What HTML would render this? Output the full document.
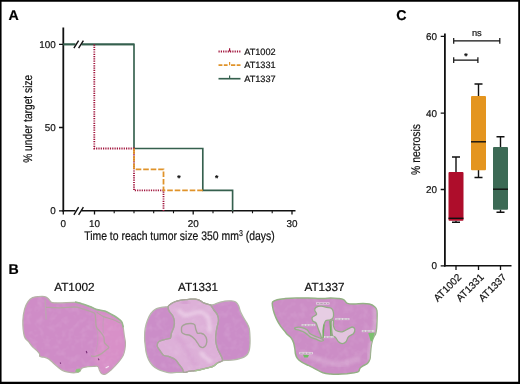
<!DOCTYPE html>
<html>
<head>
<meta charset="utf-8">
<title>Figure</title>
<style>
html,body{margin:0;padding:0;background:#fff;}
body{width:520px;height:384px;overflow:hidden;}
svg{display:block;}
text{font-family:"Liberation Sans",sans-serif;fill:#111;stroke:#111;stroke-width:.2px;text-rendering:geometricPrecision;}
.tk{font-size:9.9px;}
.lbl{font-size:12.5px;}
.pl{font-size:14.2px;font-weight:bold;fill:#000;}
.ax{stroke:#111;stroke-width:1.9;fill:none;}
</style>
</head>
<body>
<svg width="520" height="384" viewBox="0 0 520 384">
<rect x="0" y="0" width="520" height="384" fill="#fff"/>

<!-- ===== Panel A ===== -->
<g id="panelA">
<text class="pl" x="8.45" y="20">A</text>
<!-- axes -->
<path class="ax" d="M63.3 27.5V211.5" style="stroke-width:1.8"/><path class="ax" d="M62.4 210.8H295.5" style="stroke-width:1.5"/>
<!-- y ticks -->
<path class="ax" d="M59 44.3H63.3M59 127.5H63.3M59 210.8H63.3" style="stroke-width:1.3"/>
<!-- x ticks -->
<path class="ax" d="M63.3 210.8V214.4M94.5 210.8V214.4M193.2 210.8V214.4M292 210.8V214.4" style="stroke-width:1.3"/>
<path class="ax" d="M114.2 210.8V213.2M134 210.8V213.2M153.7 210.8V213.2M173.5 210.8V213.2M213 210.8V213.2M232.7 210.8V213.2M252.5 210.8V213.2M272.2 210.8V213.2" style="stroke-width:1.1"/>
<!-- axis breaks -->
<rect x="75.5" y="208" width="6" height="6" fill="#fff"/>
<path class="ax" d="M73.9 214.8L78.6 207.2M78.6 214.8L83.4 207.2" style="stroke-width:1.4"/>
<!-- curves -->
<path d="M63.3 44.3H134V148.5H202.8V190.3H232.6V211" fill="none" stroke="#35604e" stroke-width="1.65"/>
<path d="M63.3 44.3H134" fill="none" stroke="#35604e" stroke-width="1.65"/>
<rect x="75.5" y="41" width="6" height="6" fill="#fff"/>
<path class="ax" d="M73.9 48.2L78.6 40.6M78.6 48.2L83.4 40.6" style="stroke-width:1.4"/>
<path d="M94.3 44.5V148.5H134V190.3H163.5V211" fill="none" stroke="#a1143c" stroke-width="1.8" stroke-dasharray="1.2 1.1"/>
<path d="M134 148.5V169.3H163.5V190.3H202.8" fill="none" stroke="#e0932a" stroke-width="1.75" stroke-dasharray="5.6 1.9"/>
<!-- stars -->
<text x="179" y="181.1" style="font-size:8.5px;font-weight:bold" text-anchor="middle">*</text>
<text x="216.6" y="181.1" style="font-size:8.5px;font-weight:bold" text-anchor="middle">*</text>
<!-- tick labels -->
<text class="tk" transform="translate(55.8 47.5) scale(1 1)" text-anchor="end">100</text>
<text class="tk" transform="translate(55.8 130.7) scale(1 1)" text-anchor="end">50</text>
<text class="tk" transform="translate(55.8 214) scale(1 1)" text-anchor="end">0</text>
<text class="tk" transform="translate(63.3 227.4) scale(1 1)" text-anchor="middle">0</text>
<text class="tk" transform="translate(94.5 227.4) scale(1 1)" text-anchor="middle">10</text>
<text class="tk" transform="translate(193.2 227.4) scale(1 1)" text-anchor="middle">20</text>
<text class="tk" transform="translate(292.0 227.4) scale(1 1)" text-anchor="middle">30</text>
<!-- axis titles -->
<text class="lbl" x="84.2" y="240.3" textLength="190.5" lengthAdjust="spacingAndGlyphs">Time to reach tumor size 350 mm<tspan style="font-size:8.5px" dy="-4.5">3</tspan><tspan dy="4.5"> (days)</tspan></text>
<text class="lbl" transform="translate(32.4 118.8) rotate(-90)" text-anchor="middle" textLength="88" lengthAdjust="spacingAndGlyphs">% under target size</text>
<!-- legend -->
<path d="M218.5 51.5H240.5" fill="none" stroke="#a1143c" stroke-width="1.8" stroke-dasharray="1.2 1.1"/>
<path d="M229.6 48.3V51.5" stroke="#a1143c" stroke-width="1.2"/>
<path d="M218.5 65.2H222.4M223.8 65.2H227.6M231 65.2H235.3M236.7 65.2H240.5" fill="none" stroke="#e0932a" stroke-width="1.75"/>
<path d="M229.6 62V65.2" stroke="#e0932a" stroke-width="1.2"/>
<path d="M218.5 78.7H240.5" fill="none" stroke="#35604e" stroke-width="1.65"/>
<path d="M229.6 75.5V78.7" stroke="#35604e" stroke-width="1.2"/>
<text x="244.2" y="54.7" style="font-size:9.2px">AT1002</text>
<text x="244.2" y="68.4" style="font-size:9.2px">AT1331</text>
<text x="244.2" y="81.9" style="font-size:9.2px">AT1337</text>
</g>

<!-- ===== Panel C ===== -->
<g id="panelC">
<text class="pl" x="396.3" y="20.2">C</text>
<path class="ax" d="M444.9 33.5V266.5" style="stroke-width:1.8"/><path class="ax" d="M444 265.8H511.5" style="stroke-width:1.5"/>
<path class="ax" d="M440.7 36.3H445M440.7 113.1H445M440.7 189.5H445M440.7 265.8H445" style="stroke-width:1.3"/>
<path class="ax" d="M456 265.8V270M478.5 265.8V270M500.5 265.8V270" style="stroke-width:1.3"/>
<text class="tk" transform="translate(437.0 40.1) scale(1 1)" text-anchor="end">60</text>
<text class="tk" transform="translate(437.0 116.9) scale(1 1)" text-anchor="end">40</text>
<text class="tk" transform="translate(437.0 193.3) scale(1 1)" text-anchor="end">20</text>
<text class="tk" transform="translate(437.0 269.4) scale(1 1)" text-anchor="end">0</text>
<text class="lbl" transform="translate(420.2 149.5) rotate(-90)" text-anchor="middle" textLength="51" lengthAdjust="spacingAndGlyphs">% necrosis</text>
<!-- boxes -->
<path d="M456 157V172M456 220.8V222.3M452 157H460M452 222.3H460" stroke="#111" stroke-width="1.4" fill="none"/>
<rect x="448.5" y="172" width="15" height="48.8" rx="1" fill="#ae0d2b"/>
<path d="M448.5 218.3H463.5" stroke="#111" stroke-width="1.4"/>
<path d="M478.5 84V96M478.5 170V177.5M474.5 84H482.5M474.5 177.5H482.5" stroke="#111" stroke-width="1.4" fill="none"/>
<rect x="471" y="96" width="15" height="74.3" rx="1" fill="#e4951f"/>
<path d="M471 141.8H486" stroke="#111" stroke-width="1.4"/>
<path d="M500.5 136.8V147M500.5 209.6V212.2M496.5 136.8H504.5M496.5 212.2H504.5" stroke="#111" stroke-width="1.4" fill="none"/>
<rect x="493" y="147" width="15" height="62.8" rx="1" fill="#3c6a55"/>
<path d="M493 189.2H508" stroke="#111" stroke-width="1.4"/>
<!-- significance -->
<path d="M453.7 38V43.8M453.7 40.9H499.8M499.8 38V43.8" stroke="#111" stroke-width="1.2" fill="none"/>
<path d="M453.7 57.3V63.1M453.7 60.2H477.9M477.9 57.3V63.1" stroke="#111" stroke-width="1.2" fill="none"/>
<text x="476.8" y="35.7" text-anchor="middle" style="font-size:9.3px">ns</text>
<text x="465.8" y="58.5" style="font-size:8.5px;font-weight:bold" text-anchor="middle">*</text>
<!-- x labels -->
<text transform="translate(462 277.8) rotate(-45)" text-anchor="end" style="font-size:10.05px">AT1002</text>
<text transform="translate(484.5 277.8) rotate(-45)" text-anchor="end" style="font-size:10.05px">AT1331</text>
<text transform="translate(507 277.8) rotate(-45)" text-anchor="end" style="font-size:10.05px">AT1337</text>
</g>

<!-- ===== Panel B ===== -->
<g id="panelB">
<text class="pl" x="8.4" y="273.8">B</text>
<!--TUM-->
<defs><filter id="bl" x="-5%" y="-5%" width="110%" height="110%"><feGaussianBlur stdDeviation="0.45"/></filter><filter id="nz" x="0" y="0" width="100%" height="100%"><feTurbulence type="fractalNoise" baseFrequency="0.16" numOctaves="2" seed="4" result="n"/><feColorMatrix type="matrix" values="0 0 0 0 1  0 0 0 0 0.92  0 0 0 0 1  0.9 0 0 0 -0.38"/></filter><filter id="bl2" x="-20%" y="-20%" width="140%" height="140%"><feGaussianBlur stdDeviation="1.6"/></filter></defs>
<g id="t1" filter="url(#bl)">
<path d="M24.3 336.0C23.4 332.5 22.8 325.1 22.9 320.6C22.9 316.1 23.8 312.4 24.6 309.2C25.5 306.0 26.7 303.6 28.0 301.7C29.3 299.8 30.9 298.5 32.6 297.7C34.3 296.9 36.3 296.8 38.3 296.6C40.3 296.4 42.9 296.2 44.6 296.6C46.3 297.0 47.5 297.9 48.6 298.9C49.8 299.8 49.6 301.6 51.5 302.3C53.4 303.0 56.2 302.9 60.1 302.9C64.0 302.9 71.4 302.1 75.0 302.3C78.6 302.5 79.4 303.2 81.9 304.0C84.4 304.8 87.4 305.9 89.9 306.9C92.4 307.9 94.3 309.0 96.8 309.8C99.3 310.6 102.3 310.6 104.8 311.5C107.3 312.4 109.6 313.8 111.7 314.9C113.8 316.0 115.8 317.2 117.4 318.4C119.0 319.5 120.5 320.3 121.4 321.8C122.4 323.3 122.6 325.1 123.1 327.5C123.6 329.9 123.9 333.4 124.3 336.0C124.7 338.6 125.3 340.6 125.4 342.9C125.5 345.2 125.2 347.6 124.8 349.7C124.4 351.8 123.9 353.7 123.1 355.5C122.2 357.3 121.0 358.9 119.7 360.6C118.4 362.3 116.6 364.2 115.1 365.8C113.6 367.4 112.0 369.1 110.5 370.4C109.0 371.7 107.3 373.2 105.9 373.8C104.5 374.4 103.0 374.4 101.9 373.8C100.9 373.2 100.3 371.6 99.6 370.4C98.9 369.2 99.0 367.1 97.9 366.4C96.9 365.7 95.0 366.3 93.3 366.4C91.6 366.4 89.5 366.4 87.6 366.7C85.7 367.0 83.2 367.3 81.9 368.1C80.6 368.9 80.8 370.7 79.6 371.5C78.4 372.3 76.9 372.6 75.0 372.7C73.1 372.8 70.2 372.5 68.1 372.1C66.0 371.7 64.1 371.3 62.4 370.4C60.7 369.5 59.3 368.1 57.8 366.9C56.3 365.6 54.7 364.2 53.2 362.9C51.7 361.6 50.1 359.8 48.6 358.9C47.1 357.9 45.4 357.6 44.0 357.2C42.6 356.8 40.8 357.2 40.0 356.6C39.2 356.0 40.0 354.8 39.5 353.8C39.0 352.9 38.4 352.0 37.2 350.9C36.1 349.8 34.0 348.4 32.6 346.9C31.2 345.4 30.0 343.5 28.6 341.7C27.2 339.9 25.2 339.5 24.3 336.0Z" fill="#cf8cc7" stroke="#b5b3a6" stroke-width="1.3"/>
<clipPath id="c1"><path d="M24.3 336.0C23.4 332.5 22.8 325.1 22.9 320.6C22.9 316.1 23.8 312.4 24.6 309.2C25.5 306.0 26.7 303.6 28.0 301.7C29.3 299.8 30.9 298.5 32.6 297.7C34.3 296.9 36.3 296.8 38.3 296.6C40.3 296.4 42.9 296.2 44.6 296.6C46.3 297.0 47.5 297.9 48.6 298.9C49.8 299.8 49.6 301.6 51.5 302.3C53.4 303.0 56.2 302.9 60.1 302.9C64.0 302.9 71.4 302.1 75.0 302.3C78.6 302.5 79.4 303.2 81.9 304.0C84.4 304.8 87.4 305.9 89.9 306.9C92.4 307.9 94.3 309.0 96.8 309.8C99.3 310.6 102.3 310.6 104.8 311.5C107.3 312.4 109.6 313.8 111.7 314.9C113.8 316.0 115.8 317.2 117.4 318.4C119.0 319.5 120.5 320.3 121.4 321.8C122.4 323.3 122.6 325.1 123.1 327.5C123.6 329.9 123.9 333.4 124.3 336.0C124.7 338.6 125.3 340.6 125.4 342.9C125.5 345.2 125.2 347.6 124.8 349.7C124.4 351.8 123.9 353.7 123.1 355.5C122.2 357.3 121.0 358.9 119.7 360.6C118.4 362.3 116.6 364.2 115.1 365.8C113.6 367.4 112.0 369.1 110.5 370.4C109.0 371.7 107.3 373.2 105.9 373.8C104.5 374.4 103.0 374.4 101.9 373.8C100.9 373.2 100.3 371.6 99.6 370.4C98.9 369.2 99.0 367.1 97.9 366.4C96.9 365.7 95.0 366.3 93.3 366.4C91.6 366.4 89.5 366.4 87.6 366.7C85.7 367.0 83.2 367.3 81.9 368.1C80.6 368.9 80.8 370.7 79.6 371.5C78.4 372.3 76.9 372.6 75.0 372.7C73.1 372.8 70.2 372.5 68.1 372.1C66.0 371.7 64.1 371.3 62.4 370.4C60.7 369.5 59.3 368.1 57.8 366.9C56.3 365.6 54.7 364.2 53.2 362.9C51.7 361.6 50.1 359.8 48.6 358.9C47.1 357.9 45.4 357.6 44.0 357.2C42.6 356.8 40.8 357.2 40.0 356.6C39.2 356.0 40.0 354.8 39.5 353.8C39.0 352.9 38.4 352.0 37.2 350.9C36.1 349.8 34.0 348.4 32.6 346.9C31.2 345.4 30.0 343.5 28.6 341.7C27.2 339.9 25.2 339.5 24.3 336.0Z"/></clipPath>
<g clip-path="url(#c1)"><path d="M96.5 312.0C98.0 311.1 102.3 312.3 104.8 313.0C107.3 313.7 109.6 314.9 111.7 316.0C113.8 317.1 115.9 318.3 117.4 319.5C119.0 320.7 120.2 321.6 121.0 323.0C121.8 324.4 122.1 325.8 122.5 328.0C122.9 330.2 123.2 333.5 123.6 336.0C123.9 338.5 124.5 340.6 124.6 342.9C124.7 345.2 124.4 347.6 124.0 349.7C123.6 351.8 123.1 353.7 122.3 355.5C121.5 357.3 120.3 358.7 119.0 360.3C117.7 361.9 116.0 363.6 114.5 365.2C113.0 366.8 111.4 368.5 110.0 369.8C108.6 371.1 107.2 372.5 105.9 373.0C104.6 373.5 103.2 373.5 102.2 373.0C101.2 372.5 100.7 371.2 100.0 370.0C99.3 368.8 99.1 367.3 98.3 366.0C97.5 364.7 95.9 363.4 95.0 362.0C94.1 360.6 92.9 359.5 93.0 357.8C93.1 356.1 94.9 354.1 95.6 352.0C96.3 349.9 96.9 347.9 97.3 345.2C97.7 342.5 98.1 339.1 97.9 336.0C97.7 332.9 96.6 329.3 96.2 326.4C95.8 323.5 95.5 320.8 95.6 318.4C95.6 316.0 95.0 312.9 96.5 312.0Z" fill="#d890c8" stroke="none" filter="url(#bl2)"/>
<rect x="20" y="294" width="108" height="82" filter="url(#nz)" opacity=".25"/></g>
<path d="M45.2 299.5C45.3 300.9 45.4 304.7 45.6 308.0C45.8 311.3 46.1 317.6 46.2 319.5" fill="none" stroke="#b9a9ae" stroke-width="1.6" opacity=".7"/>
<path d="M46.0 307.3C48.3 307.4 55.2 307.9 60.0 307.8C64.8 307.8 71.3 306.9 75.0 307.0C78.7 307.1 79.6 308.0 81.9 308.6C84.2 309.2 86.7 310.1 88.8 310.9C90.9 311.7 93.4 311.9 94.5 313.2C95.6 314.4 95.3 316.1 95.6 318.4C95.9 320.7 95.6 324.7 96.4 327.0C97.2 329.3 99.3 330.3 100.5 332.0C101.7 333.7 103.1 335.2 103.8 337.0C104.5 338.8 103.8 341.2 104.6 342.9C105.4 344.6 108.8 346.0 108.8 347.3C108.8 348.6 106.2 349.7 104.8 350.9C103.4 352.1 101.7 353.5 100.2 354.4C98.7 355.3 97.5 355.9 96.0 356.2C94.5 356.5 91.8 356.0 91.0 356.0" fill="none" stroke="#b3a6a2" stroke-width="1.3"/>
<path d="M103.6 316.6C103.5 318.0 103.0 322.3 103.0 325.0C103.0 327.7 103.2 331.7 103.3 333.0" fill="none" stroke="#b9a3b0" stroke-width="1" opacity=".7"/>
<path d="M96.8 329.0C97.0 330.2 97.8 333.3 97.9 336.0C98.0 338.7 97.7 342.5 97.3 345.2C96.9 347.9 95.9 350.9 95.6 352.0" fill="none" stroke="#b9a3b0" stroke-width="1" opacity=".6"/>
<path d="M96.8 312.3C97.9 313.0 100.9 315.4 103.6 316.6C106.3 317.8 109.9 318.4 112.8 319.5C115.7 320.6 119.5 322.7 120.8 323.3" fill="none" stroke="#b0a8a0" stroke-width="1.2"/>
<path d="M75.0 302.0C76.2 302.3 79.4 302.9 81.9 303.7C84.4 304.4 87.4 305.6 89.9 306.5C92.4 307.4 94.3 308.6 96.8 309.4C99.3 310.2 102.3 310.2 104.8 311.1C107.3 312.0 109.6 313.4 111.7 314.5C113.8 315.6 115.8 316.8 117.4 318.0C119.1 319.2 120.6 320.0 121.6 321.6C122.6 323.2 123.0 326.5 123.3 327.5" fill="none" stroke="#98b58d" stroke-width="1.6"/>
<path d="M75 371.6l1.5-2.6l3.5-.6l.6 2.6l-2.2 1.6z" fill="#8fc27e"/>
<path d="M86.2 351l.8 2.2M98.2 358.6l.9 1.6M60.2 362.5l.5 1.3" stroke="#7a2f78" stroke-width="1.1" fill="none"/>
<path d="M105.6 368l3.2-1.8" stroke="#f4e6f2" stroke-width="1.2" fill="none"/>
</g>
<g id="t2" filter="url(#bl)">
<path d="M144.6 338.0C144.6 335.2 144.7 331.3 145.2 328.4C145.7 325.5 146.4 322.9 147.4 320.4C148.4 317.9 149.5 315.4 150.9 313.5C152.3 311.6 154.0 309.9 156.0 308.9C158.0 307.8 160.9 307.6 162.9 307.2C164.9 306.8 166.8 307.1 168.1 306.6C169.3 306.1 169.3 305.1 170.4 304.3C171.5 303.5 172.8 302.7 174.4 302.0C176.0 301.3 178.2 300.7 180.1 300.3C182.0 299.9 184.1 299.9 185.8 299.7C187.5 299.5 188.9 299.3 190.4 299.2C191.9 299.1 193.5 299.0 195.0 299.2C196.5 299.4 198.1 299.6 199.6 300.3C201.1 301.0 202.5 302.4 204.2 303.2C205.9 304.0 208.2 304.7 209.9 304.9C211.6 305.1 213.0 304.7 214.5 304.3C216.0 303.9 217.4 303.1 219.1 302.6C220.8 302.1 222.7 301.4 224.8 301.1C226.9 300.8 229.9 300.8 231.7 300.9C233.5 301.0 234.6 301.2 235.7 302.0C236.8 302.8 237.7 304.0 238.5 305.5C239.3 307.0 239.5 309.3 240.3 311.2C241.1 313.1 242.1 315.0 243.1 316.9C244.1 318.8 245.6 320.7 246.6 322.6C247.6 324.5 248.6 325.8 249.2 328.4C249.8 331.0 249.9 335.4 250.0 338.0C250.1 340.6 250.1 341.8 250.0 343.7C249.9 345.6 249.8 347.8 249.4 349.5C249.0 351.2 248.5 352.8 247.7 354.0C246.8 355.2 245.6 356.1 244.3 356.9C243.0 357.7 241.4 358.1 239.7 358.6C238.0 359.1 235.9 359.5 234.0 359.8C232.1 360.1 230.1 360.2 228.2 360.3C226.3 360.4 224.2 360.1 222.5 360.5C220.8 360.9 219.4 361.7 217.9 362.6C216.4 363.5 215.0 365.2 213.3 366.1C211.6 367.0 209.7 367.2 207.6 367.8C205.5 368.4 202.8 369.0 200.7 369.5C198.6 370.0 196.9 370.4 195.0 370.7C193.1 371.0 191.2 370.9 189.3 371.2C187.4 371.5 185.6 372.2 183.5 372.4C181.4 372.6 178.9 372.3 176.7 372.4C174.5 372.5 172.3 373.0 170.4 372.9C168.5 372.8 167.2 372.4 165.2 371.8C163.2 371.2 160.4 370.6 158.3 369.5C156.2 368.4 154.2 367.1 152.6 365.5C151.0 363.9 149.6 361.9 148.6 359.8C147.6 357.7 146.9 355.4 146.3 352.9C145.7 350.4 145.5 347.4 145.2 344.9C144.9 342.4 144.6 340.8 144.6 338.0Z" fill="#cb8dc8" stroke="#b3b9a8" stroke-width="1.3"/>
<clipPath id="c2"><path d="M144.6 338.0C144.6 335.2 144.7 331.3 145.2 328.4C145.7 325.5 146.4 322.9 147.4 320.4C148.4 317.9 149.5 315.4 150.9 313.5C152.3 311.6 154.0 309.9 156.0 308.9C158.0 307.8 160.9 307.6 162.9 307.2C164.9 306.8 166.8 307.1 168.1 306.6C169.3 306.1 169.3 305.1 170.4 304.3C171.5 303.5 172.8 302.7 174.4 302.0C176.0 301.3 178.2 300.7 180.1 300.3C182.0 299.9 184.1 299.9 185.8 299.7C187.5 299.5 188.9 299.3 190.4 299.2C191.9 299.1 193.5 299.0 195.0 299.2C196.5 299.4 198.1 299.6 199.6 300.3C201.1 301.0 202.5 302.4 204.2 303.2C205.9 304.0 208.2 304.7 209.9 304.9C211.6 305.1 213.0 304.7 214.5 304.3C216.0 303.9 217.4 303.1 219.1 302.6C220.8 302.1 222.7 301.4 224.8 301.1C226.9 300.8 229.9 300.8 231.7 300.9C233.5 301.0 234.6 301.2 235.7 302.0C236.8 302.8 237.7 304.0 238.5 305.5C239.3 307.0 239.5 309.3 240.3 311.2C241.1 313.1 242.1 315.0 243.1 316.9C244.1 318.8 245.6 320.7 246.6 322.6C247.6 324.5 248.6 325.8 249.2 328.4C249.8 331.0 249.9 335.4 250.0 338.0C250.1 340.6 250.1 341.8 250.0 343.7C249.9 345.6 249.8 347.8 249.4 349.5C249.0 351.2 248.5 352.8 247.7 354.0C246.8 355.2 245.6 356.1 244.3 356.9C243.0 357.7 241.4 358.1 239.7 358.6C238.0 359.1 235.9 359.5 234.0 359.8C232.1 360.1 230.1 360.2 228.2 360.3C226.3 360.4 224.2 360.1 222.5 360.5C220.8 360.9 219.4 361.7 217.9 362.6C216.4 363.5 215.0 365.2 213.3 366.1C211.6 367.0 209.7 367.2 207.6 367.8C205.5 368.4 202.8 369.0 200.7 369.5C198.6 370.0 196.9 370.4 195.0 370.7C193.1 371.0 191.2 370.9 189.3 371.2C187.4 371.5 185.6 372.2 183.5 372.4C181.4 372.6 178.9 372.3 176.7 372.4C174.5 372.5 172.3 373.0 170.4 372.9C168.5 372.8 167.2 372.4 165.2 371.8C163.2 371.2 160.4 370.6 158.3 369.5C156.2 368.4 154.2 367.1 152.6 365.5C151.0 363.9 149.6 361.9 148.6 359.8C147.6 357.7 146.9 355.4 146.3 352.9C145.7 350.4 145.5 347.4 145.2 344.9C144.9 342.4 144.6 340.8 144.6 338.0Z"/></clipPath>
<path d="M168.1 306.6C168.3 305.5 169.3 305.1 170.4 304.3C171.5 303.5 172.8 302.7 174.4 302.0C176.0 301.3 178.2 300.7 180.1 300.3C182.0 299.9 184.1 299.9 185.8 299.7C187.5 299.5 188.9 299.3 190.4 299.2C191.9 299.1 193.5 299.0 195.0 299.2C196.5 299.4 198.1 299.6 199.6 300.3C201.1 301.0 202.5 302.4 204.2 303.2C205.9 304.0 208.8 304.5 209.9 304.9C211.0 305.3 210.3 304.6 211.0 305.5C211.7 306.4 212.8 308.5 213.9 310.0C215.0 311.5 216.5 312.9 217.3 314.6C218.1 316.3 218.5 318.5 218.5 320.4C218.5 322.3 217.7 324.2 217.3 326.1C216.9 328.0 216.5 329.8 216.2 331.8C215.9 333.8 215.6 336.0 215.6 338.0C215.6 340.0 215.8 341.8 216.2 343.7C216.6 345.6 217.1 347.6 217.9 349.5C218.7 351.4 220.0 353.4 220.8 355.2C221.6 357.0 223.0 359.3 222.5 360.5C222.0 361.7 219.4 361.7 217.9 362.6C216.4 363.5 215.0 365.2 213.3 366.1C211.6 367.0 209.7 367.2 207.6 367.8C205.5 368.4 202.8 369.0 200.7 369.5C198.6 370.0 196.9 370.4 195.0 370.7C193.1 371.0 191.1 370.9 189.3 371.2C187.5 371.5 185.2 372.8 184.1 372.4C182.9 372.0 183.2 370.2 182.4 368.9C181.6 367.6 180.2 365.9 179.0 364.4C177.8 362.9 177.0 361.1 175.5 359.8C174.0 358.6 171.8 357.7 169.8 356.9C167.8 356.1 165.1 356.2 163.5 355.2C161.9 354.1 161.1 352.1 160.0 350.6C158.9 349.1 157.4 347.5 157.2 346.0C157.0 344.5 157.3 342.6 158.9 341.4C160.5 340.2 165.1 339.6 167.0 339.0C168.9 338.4 169.7 339.0 170.4 338.0C171.2 337.0 170.9 334.8 171.5 333.0C172.1 331.2 173.3 329.1 173.8 327.2C174.3 325.3 174.6 323.4 174.4 321.5C174.2 319.6 173.6 317.5 172.7 315.8C171.8 314.1 170.0 312.7 169.2 311.2C168.4 309.7 167.9 307.8 168.1 306.6Z" fill="#ddb0d8" stroke="#a9a79c" stroke-width="1.3"/>
<g clip-path="url(#c2)">
<path d="M181.0 302.0C181.7 302.2 183.7 303.0 185.0 303.0C186.3 303.0 188.3 302.2 189.0 302.0" fill="none" stroke="#d198cd" stroke-width="4" opacity=".75" filter="url(#bl2)"/>
<path d="M176.0 336.0C177.3 337.5 181.7 341.7 184.0 345.0C186.3 348.3 188.0 352.5 190.0 356.0C192.0 359.5 195.0 364.3 196.0 366.0" fill="none" stroke="#d7a3d2" stroke-width="5" opacity=".7" filter="url(#bl2)"/>
<path d="M178.0 310.0C179.3 310.8 182.3 314.7 186.0 315.0C189.7 315.3 196.3 311.5 200.0 312.0C203.7 312.5 206.3 314.7 208.0 318.0C209.7 321.3 209.7 329.7 210.0 332.0" fill="none" stroke="#ecd0e8" stroke-width="4" opacity=".8" filter="url(#bl2)"/>
<path d="M200.0 352.0C201.0 353.0 204.0 356.3 206.0 358.0C208.0 359.7 211.0 361.3 212.0 362.0" fill="none" stroke="#ecd0e8" stroke-width="4" opacity=".8" filter="url(#bl2)"/>
<rect x="142" y="296" width="110" height="80" filter="url(#nz)" opacity=".25"/></g>
<path d="M181.5 330.3C181.5 329.2 181.2 327.4 182.0 326.3C182.8 325.2 184.5 324.5 186.0 324.0C187.5 323.5 189.8 323.4 191.2 323.5C192.6 323.6 193.8 323.7 194.6 324.6C195.4 325.6 195.3 327.8 195.8 329.2C196.3 330.6 196.7 332.5 197.5 333.2C198.3 333.9 199.8 332.9 200.9 333.2C202.1 333.5 203.4 333.8 204.4 334.9C205.4 335.9 206.4 337.9 206.7 339.5C207.0 341.1 206.7 343.4 206.1 344.7C205.5 346.0 204.2 347.2 203.2 347.5C202.1 347.8 200.8 347.2 199.8 346.4C198.9 345.6 198.4 344.1 197.5 342.9C196.6 341.6 195.8 340.1 194.6 338.9C193.4 337.7 191.7 336.3 190.1 335.5C188.5 334.7 186.2 334.8 184.9 334.3C183.6 333.8 182.6 333.3 182.0 332.6C181.4 331.9 181.5 331.4 181.5 330.3Z" fill="#dbacd6" stroke="#a5a497" stroke-width="1.4"/>
<path d="M168.1 306.6C168.3 305.5 169.3 305.1 170.4 304.3C171.5 303.5 172.8 302.7 174.4 302.0C176.0 301.3 178.2 300.7 180.1 300.3C182.0 299.9 184.1 299.9 185.8 299.7C187.5 299.5 188.9 299.3 190.4 299.2C191.9 299.1 193.5 299.0 195.0 299.2C196.5 299.4 198.1 299.6 199.6 300.3C201.1 301.0 202.5 302.4 204.2 303.2C205.9 304.0 208.8 304.5 209.9 304.9C211.0 305.3 210.3 304.6 211.0 305.5C211.7 306.4 212.8 308.5 213.9 310.0C215.0 311.5 216.5 312.9 217.3 314.6C218.1 316.3 218.5 318.5 218.5 320.4C218.5 322.3 217.7 324.2 217.3 326.1C216.9 328.0 216.5 329.8 216.2 331.8C215.9 333.8 215.6 336.0 215.6 338.0C215.6 340.0 215.8 341.8 216.2 343.7C216.6 345.6 217.1 347.6 217.9 349.5C218.7 351.4 220.0 353.4 220.8 355.2C221.6 357.0 223.0 359.3 222.5 360.5C222.0 361.7 219.4 361.7 217.9 362.6C216.4 363.5 215.0 365.2 213.3 366.1C211.6 367.0 209.7 367.2 207.6 367.8C205.5 368.4 202.8 369.0 200.7 369.5C198.6 370.0 196.9 370.4 195.0 370.7C193.1 371.0 191.1 370.9 189.3 371.2C187.5 371.5 185.2 372.8 184.1 372.4C182.9 372.0 183.2 370.2 182.4 368.9C181.6 367.6 180.2 365.9 179.0 364.4C177.8 362.9 177.0 361.1 175.5 359.8C174.0 358.6 171.8 357.7 169.8 356.9C167.8 356.1 165.1 356.2 163.5 355.2C161.9 354.1 161.1 352.1 160.0 350.6C158.9 349.1 157.4 347.5 157.2 346.0C157.0 344.5 157.3 342.6 158.9 341.4C160.5 340.2 165.1 339.6 167.0 339.0C168.9 338.4 169.7 339.0 170.4 338.0C171.2 337.0 170.9 334.8 171.5 333.0C172.1 331.2 173.3 329.1 173.8 327.2C174.3 325.3 174.6 323.4 174.4 321.5C174.2 319.6 173.6 317.5 172.7 315.8C171.8 314.1 170.0 312.7 169.2 311.2C168.4 309.7 167.9 307.8 168.1 306.6Z" fill="none" stroke="#a9a79c" stroke-width="1.3"/>
<path d="M195.0 370.9C195.9 370.7 198.6 370.2 200.7 369.7C202.8 369.2 205.5 368.6 207.6 368.0C209.7 367.4 211.6 367.2 213.3 366.3C215.0 365.4 217.1 363.4 217.9 362.8" fill="none" stroke="#a9c597" stroke-width="1.2"/>
</g>
<g id="t3" filter="url(#bl)">
<path d="M272.6 302.0C273.4 300.9 275.1 300.3 277.2 299.7C279.3 299.1 282.0 298.9 285.2 298.6C288.4 298.3 292.8 298.1 296.6 298.0C300.4 297.9 303.7 297.9 308.1 298.0C312.5 298.1 319.3 298.6 323.0 298.6C326.7 298.6 328.0 298.0 330.5 298.0C333.0 298.0 335.8 298.1 338.0 298.4C340.2 298.7 342.0 298.8 343.6 299.6C345.2 300.4 345.6 302.7 347.4 303.4C349.2 304.1 351.7 304.0 354.3 304.0C356.9 304.0 360.5 303.4 363.0 303.4C365.5 303.4 367.4 303.5 369.3 304.0C371.2 304.5 373.1 305.4 374.3 306.5C375.6 307.6 376.4 308.2 376.8 310.3C377.2 312.4 377.1 315.9 377.0 319.0C376.9 322.1 376.8 326.5 376.5 329.0C376.2 331.5 375.9 332.8 375.5 334.0C375.1 335.2 374.8 335.0 374.2 336.0C373.7 337.0 372.9 338.5 372.4 340.2C371.9 342.0 371.4 344.4 371.1 346.5C370.8 348.6 370.7 350.7 370.5 352.8C370.3 354.8 370.4 357.2 369.9 359.0C369.4 360.8 368.5 362.2 367.4 363.4C366.2 364.5 364.2 365.1 363.0 365.9C361.8 366.7 360.6 367.5 359.9 368.4C359.2 369.3 359.5 370.8 358.6 371.5C357.7 372.2 356.2 372.4 354.2 372.8C352.3 373.1 349.5 373.5 346.8 373.8C344.0 374.0 340.7 374.2 338.0 374.2C335.3 374.3 333.0 374.2 330.5 374.0C328.0 373.8 325.7 373.7 323.0 372.8C320.3 371.8 316.8 369.6 314.2 368.4C311.8 367.1 310.1 366.3 308.0 365.2C305.9 364.2 303.5 363.2 301.8 362.1C300.0 361.0 298.4 359.8 297.4 358.4C296.4 357.0 295.9 355.6 295.5 354.0C295.1 352.4 295.2 350.9 294.9 349.0C294.6 347.1 294.2 344.6 293.6 342.8C293.0 340.9 292.2 339.2 291.1 337.8C290.0 336.3 287.7 335.0 286.8 334.0C285.8 333.0 286.2 333.1 285.2 331.8C284.2 330.5 281.9 328.0 280.6 326.1C279.3 324.2 278.2 322.5 277.2 320.4C276.1 318.3 275.1 315.8 274.3 313.5C273.5 311.2 272.9 308.5 272.6 306.6C272.3 304.7 271.8 303.1 272.6 302.0Z" fill="#cc8dc6" stroke="#93b084" stroke-width="1.5"/>
<clipPath id="c3"><path d="M272.6 302.0C273.4 300.9 275.1 300.3 277.2 299.7C279.3 299.1 282.0 298.9 285.2 298.6C288.4 298.3 292.8 298.1 296.6 298.0C300.4 297.9 303.7 297.9 308.1 298.0C312.5 298.1 319.3 298.6 323.0 298.6C326.7 298.6 328.0 298.0 330.5 298.0C333.0 298.0 335.8 298.1 338.0 298.4C340.2 298.7 342.0 298.8 343.6 299.6C345.2 300.4 345.6 302.7 347.4 303.4C349.2 304.1 351.7 304.0 354.3 304.0C356.9 304.0 360.5 303.4 363.0 303.4C365.5 303.4 367.4 303.5 369.3 304.0C371.2 304.5 373.1 305.4 374.3 306.5C375.6 307.6 376.4 308.2 376.8 310.3C377.2 312.4 377.1 315.9 377.0 319.0C376.9 322.1 376.8 326.5 376.5 329.0C376.2 331.5 375.9 332.8 375.5 334.0C375.1 335.2 374.8 335.0 374.2 336.0C373.7 337.0 372.9 338.5 372.4 340.2C371.9 342.0 371.4 344.4 371.1 346.5C370.8 348.6 370.7 350.7 370.5 352.8C370.3 354.8 370.4 357.2 369.9 359.0C369.4 360.8 368.5 362.2 367.4 363.4C366.2 364.5 364.2 365.1 363.0 365.9C361.8 366.7 360.6 367.5 359.9 368.4C359.2 369.3 359.5 370.8 358.6 371.5C357.7 372.2 356.2 372.4 354.2 372.8C352.3 373.1 349.5 373.5 346.8 373.8C344.0 374.0 340.7 374.2 338.0 374.2C335.3 374.3 333.0 374.2 330.5 374.0C328.0 373.8 325.7 373.7 323.0 372.8C320.3 371.8 316.8 369.6 314.2 368.4C311.8 367.1 310.1 366.3 308.0 365.2C305.9 364.2 303.5 363.2 301.8 362.1C300.0 361.0 298.4 359.8 297.4 358.4C296.4 357.0 295.9 355.6 295.5 354.0C295.1 352.4 295.2 350.9 294.9 349.0C294.6 347.1 294.2 344.6 293.6 342.8C293.0 340.9 292.2 339.2 291.1 337.8C290.0 336.3 287.7 335.0 286.8 334.0C285.8 333.0 286.2 333.1 285.2 331.8C284.2 330.5 281.9 328.0 280.6 326.1C279.3 324.2 278.2 322.5 277.2 320.4C276.1 318.3 275.1 315.8 274.3 313.5C273.5 311.2 272.9 308.5 272.6 306.6C272.3 304.7 271.8 303.1 272.6 302.0Z"/></clipPath>
<g clip-path="url(#c3)">
<path d="M374.0 308.0C374.2 310.0 375.1 315.7 375.0 320.0C374.9 324.3 374.3 329.3 373.5 334.0C372.7 338.7 370.8 343.7 370.0 348.0C369.2 352.3 368.8 358.0 368.5 360.0" fill="none" stroke="#dab4d6" stroke-width="3" opacity=".8" filter="url(#bl2)"/>
<path d="M300.0 352.0C303.3 353.3 313.3 358.0 320.0 360.0C326.7 362.0 333.3 364.3 340.0 364.0C346.7 363.7 356.7 359.0 360.0 358.0" fill="none" stroke="#d9acd4" stroke-width="6" opacity=".6" filter="url(#bl2)"/>
<rect x="268" y="294" width="112" height="84" filter="url(#nz)" opacity=".25"/></g>
<path d="M316.0 307.4C317.0 306.7 319.1 306.1 321.0 306.1C322.9 306.1 325.5 307.0 327.2 307.4C329.0 307.8 330.6 307.7 331.6 308.6C332.6 309.5 333.3 311.4 333.5 313.0C333.7 314.6 333.5 316.9 332.9 318.0C332.3 319.1 330.9 319.5 329.8 319.9C328.6 320.3 326.9 319.8 326.0 320.5C325.1 321.2 324.6 322.6 324.1 324.2C323.6 325.9 323.0 328.4 322.9 330.5C322.8 332.6 323.7 335.8 323.5 337.0C323.3 338.2 322.0 338.0 321.5 337.5C321.0 337.0 321.0 335.8 320.4 334.2C319.8 332.7 318.6 329.9 317.9 328.0C317.2 326.1 316.8 324.1 316.0 323.0C315.2 321.9 313.5 322.0 312.9 321.1C312.3 320.2 311.6 318.5 312.2 317.4C312.9 316.3 316.2 315.4 316.6 314.2C317.0 313.1 314.9 311.6 314.8 310.5C314.6 309.4 315.0 308.1 316.0 307.4Z" fill="#e6cde3" stroke="#93ad86" stroke-width="1.3"/>
<path d="M333.5 320.5C333.9 321.3 333.1 324.4 333.5 326.1C333.9 327.8 334.5 329.6 336.0 330.5C337.5 331.4 340.2 332.1 342.2 331.8C344.3 331.4 346.8 329.4 348.5 328.6C350.2 327.8 351.2 326.9 352.2 327.0C353.3 327.1 354.5 328.1 354.8 329.2C355.0 330.4 354.5 332.4 353.5 333.6C352.5 334.9 349.8 335.4 348.5 336.8C347.2 338.1 347.0 340.6 346.0 341.8C345.0 342.9 343.5 343.6 342.2 343.6C341.0 343.6 339.6 342.8 338.5 341.8C337.4 340.7 336.4 338.4 335.4 337.4C334.4 336.4 333.1 337.1 332.5 335.5C331.9 333.9 331.7 330.3 331.5 328.0C331.3 325.7 331.0 322.8 331.3 321.5C331.6 320.2 333.1 319.7 333.5 320.5Z" fill="#e3c4df" stroke="#93ad86" stroke-width="1.3"/>
<path d="M294.9 327.8C295.8 327.5 298.9 327.0 301.0 327.4C303.1 327.8 305.8 328.9 307.2 329.9C308.7 330.9 308.5 332.6 309.8 333.6C311.0 334.6 313.1 335.4 314.8 336.1C316.4 336.8 318.3 337.4 319.8 338.0C321.2 338.6 323.3 339.4 323.5 339.9C323.7 340.4 322.2 341.2 321.0 341.1C319.8 341.0 317.7 339.9 316.0 339.2C314.3 338.6 312.4 338.1 311.0 337.4C309.6 336.7 309.1 335.8 307.9 334.9C306.6 334.0 305.1 332.6 303.5 331.8C301.9 330.9 299.8 330.3 298.5 329.9C297.2 329.5 296.1 329.6 295.5 329.3C294.9 329.0 294.0 328.1 294.9 327.8Z" fill="#d7a6d2" stroke="#98af8a" stroke-width="1.3"/>
<path d="M329.9 320.6L331 336.6M324 324.5L323 337.5" fill="none" stroke="#72b060" stroke-width="1.2"/>
<rect x="316.0" y="302.4" width="13.5" height="2.1" fill="#ead9e8"/>
<path d="M316.8 303.4h11.9" stroke="#7a6a7a" stroke-width=".7" stroke-dasharray="2.6 .8" opacity=".75"/>
<rect x="335.4" y="318.0" width="14.0" height="2.1" fill="#ead9e8"/>
<path d="M336.2 319.1h12.4" stroke="#7a6a7a" stroke-width=".7" stroke-dasharray="2.6 .8" opacity=".75"/>
<rect x="301.6" y="324.0" width="13.6" height="2.1" fill="#ead9e8"/>
<path d="M302.4 325.1h12.0" stroke="#7a6a7a" stroke-width=".7" stroke-dasharray="2.6 .8" opacity=".75"/>
<rect x="324.0" y="336.0" width="9.5" height="2.1" fill="#ead9e8"/>
<path d="M324.8 337.1h7.9" stroke="#7a6a7a" stroke-width=".7" stroke-dasharray="2.6 .8" opacity=".75"/>
<rect x="299.3" y="352.1" width="13.6" height="2.1" fill="#ead9e8"/>
<path d="M300.1 353.2h12.0" stroke="#7a6a7a" stroke-width=".7" stroke-dasharray="2.6 .8" opacity=".75"/>
<rect x="361.8" y="330.0" width="12.4" height="2.1" fill="#ead9e8"/>
<path d="M362.6 331.1h10.8" stroke="#7a6a7a" stroke-width=".7" stroke-dasharray="2.6 .8" opacity=".75"/>
<path d="M368.3 333l6.6 -.4l-2.6 8.5l-1.6 .4z" fill="#7cc070"/>
<path d="M303 354.8l6 .2l-1.2 2.6l-3.6 -.2z" fill="#6fbd62"/>
</g>
<!--/TUM-->
<text x="74.4" y="291.1" style="font-size:11.8px" text-anchor="middle">AT1002</text>
<text x="198" y="291" style="font-size:11.7px" text-anchor="middle">AT1331</text>
<text x="324.5" y="291" style="font-size:11.7px" text-anchor="middle">AT1337</text>
</g>

<!-- border -->
<path d="M0.78 0V384" stroke="#000" stroke-width="1.56"/>
<path d="M0 0.85H520" stroke="#000" stroke-width="1.7"/>
<path d="M519.1 0V384" stroke="#000" stroke-width="1.8"/>
<path d="M0 382.9H520" stroke="#000" stroke-width="2.2"/>
</svg>
</body>
</html>
